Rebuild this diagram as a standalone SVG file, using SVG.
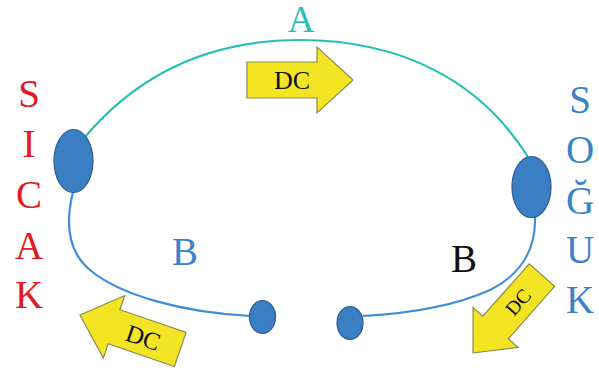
<svg xmlns="http://www.w3.org/2000/svg" width="599" height="376" viewBox="0 0 599 376">
<defs>
<polygon id="arrowShape" points="0,0 -36,-33 -36,-18 -106,-18 -106,18 -36,18 -36,33"/>
</defs>
<g id="connectors" fill="none" stroke-width="2.2">
<path stroke="#27c0b6" d="M85,137 C150,60 230,40 300,40 C400,40 480,80 528,157"/>
<path stroke="#3e8fd6" d="M73,192 C66,220 66,250 90,270 C120,295 180,312 250,316"/>
<path stroke="#3e8fd6" d="M535,217 C536,250 520,275 490,290 C450,308 400,314 363,316"/>
</g>
<g fill="#3a7fc4" stroke="#2b5d8f" stroke-width="1.2">
<g id="node-left"><ellipse cx="73.5" cy="161" rx="19.5" ry="31.5"/></g>
<g id="node-right"><ellipse cx="531.5" cy="187" rx="19.5" ry="30.5"/></g>
<g id="node-bl"><ellipse cx="262.5" cy="317" rx="13" ry="16.5"/></g>
<g id="node-br"><ellipse cx="350" cy="323" rx="13" ry="16.5"/></g>
</g>
<g id="arrow-top">
<use href="#arrowShape" transform="translate(353,80)" fill="#f3e523" stroke="#8c8a52" stroke-width="1.2"/>
<text x="292" y="89" font-family="Liberation Serif, serif" font-size="26" text-anchor="middle" fill="#111">DC</text>
</g>
<g id="arrow-left">
<use href="#arrowShape" transform="translate(80,315) rotate(199)" fill="#f3e523" stroke="#8c8a52" stroke-width="1.2"/>
<text x="143" y="346" transform="rotate(19,143,338)" font-family="Liberation Serif, serif" font-size="25" text-anchor="middle" fill="#111">DC</text>
</g>
<g id="arrow-right">
<polygon transform="translate(473,353) rotate(131.5)" points="0,0 -34,-30 -34,-17 -104,-17 -104,17 -34,17 -34,30" fill="#f3e523" stroke="#8c8a52" stroke-width="1.2"/>
<text x="518" y="309" transform="rotate(-48.5,518,302)" font-family="Liberation Serif, serif" font-size="20" text-anchor="middle" fill="#111">DC</text>
</g>
<g id="labels">
<text x="301" y="32" font-family="Liberation Serif, serif" font-size="37" text-anchor="middle" fill="#27c0b6">A</text>
<text x="185" y="265" font-family="Liberation Serif, serif" font-size="39" text-anchor="middle" fill="#3b82c9">B</text>
<text x="464" y="272" font-family="Liberation Serif, serif" font-size="39" text-anchor="middle" fill="#111">B</text>
<text x="29" y="107" font-family="Liberation Serif, serif" font-size="39" text-anchor="middle" fill="#e01b22">S</text>
<text x="29" y="157" font-family="Liberation Serif, serif" font-size="39" text-anchor="middle" fill="#e01b22">I</text>
<text x="29" y="208" font-family="Liberation Serif, serif" font-size="39" text-anchor="middle" fill="#e01b22">C</text>
<text x="29" y="259" font-family="Liberation Serif, serif" font-size="39" text-anchor="middle" fill="#e01b22">A</text>
<text x="29" y="308" font-family="Liberation Serif, serif" font-size="39" text-anchor="middle" fill="#e01b22">K</text>
<text x="580" y="113" font-family="Liberation Serif, serif" font-size="39" text-anchor="middle" fill="#3b82c9">S</text>
<text x="580" y="163" font-family="Liberation Serif, serif" font-size="39" text-anchor="middle" fill="#3b82c9">O</text>
<text x="580" y="214" font-family="Liberation Serif, serif" font-size="39" text-anchor="middle" fill="#3b82c9">Ğ</text>
<text x="580" y="263" font-family="Liberation Serif, serif" font-size="39" text-anchor="middle" fill="#3b82c9">U</text>
<text x="580" y="313" font-family="Liberation Serif, serif" font-size="39" text-anchor="middle" fill="#3b82c9">K</text>
</g>
</svg>
